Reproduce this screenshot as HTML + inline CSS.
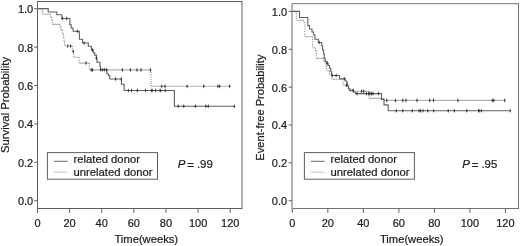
<!DOCTYPE html>
<html><head><meta charset="utf-8"><style>
html,body{margin:0;padding:0;background:#fff;width:520px;height:246px;overflow:hidden}
svg{display:block;will-change:transform;filter:blur(0.3px)}
.t{font-family:"Liberation Sans",sans-serif;font-size:11px;fill:#1c1c1c;stroke:#1c1c1c;stroke-width:0.22px}
</style></head><body>
<svg width="520" height="246" viewBox="0 0 520 246">
<rect width="520" height="246" fill="#fff"/>
<rect x="37.5" y="1.5" width="204.50" height="207.00" fill="none" stroke="#5e5e5e" stroke-width="1"/>
<line x1="34.20" y1="200.70" x2="37.50" y2="200.70" stroke="#5e5e5e" stroke-width="1"/>
<text x="33.20" y="205.20" text-anchor="end" class="t">0.0</text>
<line x1="34.20" y1="162.30" x2="37.50" y2="162.30" stroke="#5e5e5e" stroke-width="1"/>
<text x="33.20" y="166.80" text-anchor="end" class="t">0.2</text>
<line x1="34.20" y1="123.90" x2="37.50" y2="123.90" stroke="#5e5e5e" stroke-width="1"/>
<text x="33.20" y="128.40" text-anchor="end" class="t">0.4</text>
<line x1="34.20" y1="85.50" x2="37.50" y2="85.50" stroke="#5e5e5e" stroke-width="1"/>
<text x="33.20" y="90.00" text-anchor="end" class="t">0.6</text>
<line x1="34.20" y1="47.10" x2="37.50" y2="47.10" stroke="#5e5e5e" stroke-width="1"/>
<text x="33.20" y="51.60" text-anchor="end" class="t">0.8</text>
<line x1="34.20" y1="8.70" x2="37.50" y2="8.70" stroke="#5e5e5e" stroke-width="1"/>
<text x="33.20" y="13.20" text-anchor="end" class="t">1.0</text>
<line x1="37.50" y1="208.50" x2="37.50" y2="212.80" stroke="#5e5e5e" stroke-width="1"/>
<text x="37.50" y="226.5" text-anchor="middle" class="t">0</text>
<line x1="69.62" y1="208.50" x2="69.62" y2="212.80" stroke="#5e5e5e" stroke-width="1"/>
<text x="69.62" y="226.5" text-anchor="middle" class="t">20</text>
<line x1="101.73" y1="208.50" x2="101.73" y2="212.80" stroke="#5e5e5e" stroke-width="1"/>
<text x="101.73" y="226.5" text-anchor="middle" class="t">40</text>
<line x1="133.85" y1="208.50" x2="133.85" y2="212.80" stroke="#5e5e5e" stroke-width="1"/>
<text x="133.85" y="226.5" text-anchor="middle" class="t">60</text>
<line x1="165.96" y1="208.50" x2="165.96" y2="212.80" stroke="#5e5e5e" stroke-width="1"/>
<text x="165.96" y="226.5" text-anchor="middle" class="t">80</text>
<line x1="198.08" y1="208.50" x2="198.08" y2="212.80" stroke="#5e5e5e" stroke-width="1"/>
<text x="198.08" y="226.5" text-anchor="middle" class="t">100</text>
<line x1="230.20" y1="208.50" x2="230.20" y2="212.80" stroke="#5e5e5e" stroke-width="1"/>
<text x="230.20" y="226.5" text-anchor="middle" class="t">120</text>
<text x="146.25" y="243" text-anchor="middle" class="t" style="font-size:11.2px">Time(weeks)</text>
<text transform="translate(9.2,105.0) rotate(-90)" text-anchor="middle" class="t" style="font-size:11.3px">Survival Probability</text>
<rect x="47.4" y="152.6" width="110.1" height="26.6" fill="#fff" stroke="#5e5e5e" stroke-width="1"/>
<line x1="53.9" y1="161.3" x2="67.7" y2="161.3" stroke="#666" stroke-width="1"/>
<line x1="53.9" y1="172.2" x2="67.7" y2="172.2" stroke="#c8c8c8" stroke-width="1"/>
<text x="73.6" y="163.4" class="t" style="font-size:11.25px">related donor</text>
<text x="73.6" y="175.9" class="t" style="font-size:11.25px">unrelated donor</text>
<text x="177.8" y="168.0" class="t" style="font-size:11.4px"><tspan font-style="italic">P</tspan><tspan x="187.20" dy="0.9">=</tspan><tspan x="196.90" dy="-0.9">.99</tspan></text>
<rect x="292.0" y="3.7" width="226.50" height="204.80" fill="none" stroke="#727272" stroke-width="1"/>
<line x1="292.0" y1="3.2" x2="292.0" y2="209.0" stroke="#fff" stroke-width="1.2"/>
<line x1="292.0" y1="3.2" x2="292.0" y2="209.0" stroke="#9a9a9a" stroke-width="1.3"/>
<line x1="288.70" y1="200.70" x2="292.00" y2="200.70" stroke="#5e5e5e" stroke-width="1"/>
<text x="287.10" y="205.20" text-anchor="end" class="t">0.0</text>
<line x1="288.70" y1="162.84" x2="292.00" y2="162.84" stroke="#5e5e5e" stroke-width="1"/>
<text x="287.10" y="167.34" text-anchor="end" class="t">0.2</text>
<line x1="288.70" y1="124.98" x2="292.00" y2="124.98" stroke="#5e5e5e" stroke-width="1"/>
<text x="287.10" y="129.48" text-anchor="end" class="t">0.4</text>
<line x1="288.70" y1="87.12" x2="292.00" y2="87.12" stroke="#5e5e5e" stroke-width="1"/>
<text x="287.10" y="91.62" text-anchor="end" class="t">0.6</text>
<line x1="288.70" y1="49.26" x2="292.00" y2="49.26" stroke="#5e5e5e" stroke-width="1"/>
<text x="287.10" y="53.76" text-anchor="end" class="t">0.8</text>
<line x1="288.70" y1="11.40" x2="292.00" y2="11.40" stroke="#5e5e5e" stroke-width="1"/>
<text x="287.10" y="15.90" text-anchor="end" class="t">1.0</text>
<line x1="292.30" y1="208.50" x2="292.30" y2="212.80" stroke="#5e5e5e" stroke-width="1"/>
<text x="292.30" y="226.5" text-anchor="middle" class="t">0</text>
<line x1="327.82" y1="208.50" x2="327.82" y2="212.80" stroke="#5e5e5e" stroke-width="1"/>
<text x="327.82" y="226.5" text-anchor="middle" class="t">20</text>
<line x1="363.34" y1="208.50" x2="363.34" y2="212.80" stroke="#5e5e5e" stroke-width="1"/>
<text x="363.34" y="226.5" text-anchor="middle" class="t">40</text>
<line x1="398.86" y1="208.50" x2="398.86" y2="212.80" stroke="#5e5e5e" stroke-width="1"/>
<text x="398.86" y="226.5" text-anchor="middle" class="t">60</text>
<line x1="434.38" y1="208.50" x2="434.38" y2="212.80" stroke="#5e5e5e" stroke-width="1"/>
<text x="434.38" y="226.5" text-anchor="middle" class="t">80</text>
<line x1="469.90" y1="208.50" x2="469.90" y2="212.80" stroke="#5e5e5e" stroke-width="1"/>
<text x="469.90" y="226.5" text-anchor="middle" class="t">100</text>
<line x1="505.42" y1="208.50" x2="505.42" y2="212.80" stroke="#5e5e5e" stroke-width="1"/>
<text x="505.42" y="226.5" text-anchor="middle" class="t">120</text>
<text x="411.75" y="243" text-anchor="middle" class="t" style="font-size:11.2px">Time(weeks)</text>
<text transform="translate(264.0,107.6) rotate(-90)" text-anchor="middle" class="t" style="font-size:11.1px">Event-free Probability</text>
<rect x="304.4" y="152.6" width="110.0" height="26.6" fill="#fff" stroke="#5e5e5e" stroke-width="1"/>
<line x1="310.9" y1="161.3" x2="324.7" y2="161.3" stroke="#666" stroke-width="1"/>
<line x1="310.9" y1="172.2" x2="324.7" y2="172.2" stroke="#c8c8c8" stroke-width="1"/>
<text x="330.59999999999997" y="163.4" class="t" style="font-size:11.25px">related donor</text>
<text x="330.59999999999997" y="175.9" class="t" style="font-size:11.25px">unrelated donor</text>
<text x="462.3" y="168.0" class="t" style="font-size:11.4px"><tspan font-style="italic">P</tspan><tspan x="471.70" dy="0.9">=</tspan><tspan x="481.40" dy="-0.9">.95</tspan></text>
<path d="M37.50,8.60 H42.00 M42.00,11.40 H42.60 M42.60,14.30 H50.60 M50.60,17.00 H51.60 M51.60,20.00 H52.20 M52.20,24.40 H59.90 M59.90,26.80 H61.00 M61.00,30.00 H62.70 M62.70,34.00 H63.40 M63.40,38.00 H64.00 M64.00,41.80 H64.60 M64.60,46.00 H72.30 M72.30,51.30 H73.60 M73.60,57.20 H79.20 M79.20,63.10 H89.40 M89.40,69.90 H151.00 M151.00,86.30 H230.20" fill="none" stroke="#b2b2b2" stroke-width="1.1"/>
<path d="M42.00,8.60 V11.40 M42.60,11.40 V14.30 M50.60,14.30 V17.00 M51.60,17.00 V20.00 M52.20,20.00 V24.40 M59.90,24.40 V26.80 M61.00,26.80 V30.00 M62.70,30.00 V34.00 M63.40,34.00 V38.00 M64.00,38.00 V41.80 M64.60,41.80 V46.00 M72.30,46.00 V51.30 M73.60,51.30 V57.20 M79.20,57.20 V63.10 M89.40,63.10 V69.90 M151.00,69.90 V86.30" fill="none" stroke="#8a8a8a" stroke-width="1.1" stroke-dasharray="1 1.2"/>
<path d="M67.80,43.70 L68.55,46.00 L67.80,48.30 L67.05,46.00 Z" fill="#2e2e2e"/>
<path d="M70.60,43.70 L71.35,46.00 L70.60,48.30 L69.85,46.00 Z" fill="#2e2e2e"/>
<path d="M73.20,49.20 L73.95,51.50 L73.20,53.80 L72.45,51.50 Z" fill="#2e2e2e"/>
<path d="M86.00,60.80 L86.75,63.10 L86.00,65.40 L85.25,63.10 Z" fill="#2e2e2e"/>
<path d="M91.20,67.60 L91.95,69.90 L91.20,72.20 L90.45,69.90 Z" fill="#2e2e2e"/>
<path d="M92.60,67.60 L93.35,69.90 L92.60,72.20 L91.85,69.90 Z" fill="#2e2e2e"/>
<path d="M122.40,67.60 L123.15,69.90 L122.40,72.20 L121.65,69.90 Z" fill="#2e2e2e"/>
<path d="M130.40,67.60 L131.15,69.90 L130.40,72.20 L129.65,69.90 Z" fill="#2e2e2e"/>
<path d="M137.00,67.60 L137.75,69.90 L137.00,72.20 L136.25,69.90 Z" fill="#2e2e2e"/>
<path d="M141.00,67.60 L141.75,69.90 L141.00,72.20 L140.25,69.90 Z" fill="#2e2e2e"/>
<path d="M150.40,67.60 L151.15,69.90 L150.40,72.20 L149.65,69.90 Z" fill="#2e2e2e"/>
<path d="M161.70,84.00 L162.45,86.30 L161.70,88.60 L160.95,86.30 Z" fill="#2e2e2e"/>
<path d="M165.00,84.00 L165.75,86.30 L165.00,88.60 L164.25,86.30 Z" fill="#2e2e2e"/>
<path d="M187.10,84.00 L187.85,86.30 L187.10,88.60 L186.35,86.30 Z" fill="#2e2e2e"/>
<path d="M203.80,84.00 L204.55,86.30 L203.80,88.60 L203.05,86.30 Z" fill="#2e2e2e"/>
<path d="M218.00,84.00 L218.75,86.30 L218.00,88.60 L217.25,86.30 Z" fill="#2e2e2e"/>
<path d="M219.60,84.00 L220.35,86.30 L219.60,88.60 L218.85,86.30 Z" fill="#2e2e2e"/>
<path d="M229.60,84.00 L230.35,86.30 L229.60,88.60 L228.85,86.30 Z" fill="#2e2e2e"/>
<path d="M37.50,8.60 L48.20,8.60 L48.20,12.00 L56.80,12.00 L56.80,14.80 L61.90,14.80 L61.90,18.50 L69.90,18.50 L69.90,24.60 L71.10,24.60 L71.10,28.00 L73.10,28.00 L73.10,31.20 L79.40,31.20 L79.40,39.20 L82.50,39.20 L82.50,43.00 L88.30,43.00 L88.30,46.30 L91.30,46.30 L91.30,49.90 L93.30,49.90 L93.30,52.70 L94.70,52.70 L94.70,55.10 L96.50,55.10 L96.50,58.00 L97.00,58.00 L97.00,62.20 L99.90,62.20 L99.90,66.00 L100.40,66.00 L100.40,69.80 L107.00,69.80 L107.00,73.70 L108.30,73.70 L108.30,75.50 L109.80,75.50 L109.80,79.00 L121.40,79.00 L121.40,84.30 L124.10,84.30 L124.10,90.50 L174.40,90.50 L174.40,106.30 L234.30,106.30" fill="none" stroke="#606060" stroke-width="1.1"/>
<path d="M62.30,16.20 L63.05,18.50 L62.30,20.80 L61.55,18.50 Z" fill="#2e2e2e"/>
<path d="M66.70,16.20 L67.45,18.50 L66.70,20.80 L65.95,18.50 Z" fill="#2e2e2e"/>
<path d="M77.30,28.90 L78.05,31.20 L77.30,33.50 L76.55,31.20 Z" fill="#2e2e2e"/>
<path d="M84.10,40.70 L84.85,43.00 L84.10,45.30 L83.35,43.00 Z" fill="#2e2e2e"/>
<path d="M92.30,47.60 L93.05,49.90 L92.30,52.20 L91.55,49.90 Z" fill="#2e2e2e"/>
<path d="M96.20,55.70 L96.95,58.00 L96.20,60.30 L95.45,58.00 Z" fill="#2e2e2e"/>
<path d="M100.60,67.50 L101.35,69.80 L100.60,72.10 L99.85,69.80 Z" fill="#2e2e2e"/>
<path d="M102.40,67.50 L103.15,69.80 L102.40,72.10 L101.65,69.80 Z" fill="#2e2e2e"/>
<path d="M104.30,67.50 L105.05,69.80 L104.30,72.10 L103.55,69.80 Z" fill="#2e2e2e"/>
<path d="M106.60,67.50 L107.35,69.80 L106.60,72.10 L105.85,69.80 Z" fill="#2e2e2e"/>
<path d="M115.60,76.70 L116.35,79.00 L115.60,81.30 L114.85,79.00 Z" fill="#2e2e2e"/>
<path d="M121.30,76.70 L122.05,79.00 L121.30,81.30 L120.55,79.00 Z" fill="#2e2e2e"/>
<path d="M128.30,88.20 L129.05,90.50 L128.30,92.80 L127.55,90.50 Z" fill="#2e2e2e"/>
<path d="M131.50,88.20 L132.25,90.50 L131.50,92.80 L130.75,90.50 Z" fill="#2e2e2e"/>
<path d="M137.30,88.20 L138.05,90.50 L137.30,92.80 L136.55,90.50 Z" fill="#2e2e2e"/>
<path d="M145.60,88.20 L146.35,90.50 L145.60,92.80 L144.85,90.50 Z" fill="#2e2e2e"/>
<path d="M151.30,88.20 L152.05,90.50 L151.30,92.80 L150.55,90.50 Z" fill="#2e2e2e"/>
<path d="M152.20,88.20 L152.95,90.50 L152.20,92.80 L151.45,90.50 Z" fill="#2e2e2e"/>
<path d="M155.60,88.20 L156.35,90.50 L155.60,92.80 L154.85,90.50 Z" fill="#2e2e2e"/>
<path d="M160.00,88.20 L160.75,90.50 L160.00,92.80 L159.25,90.50 Z" fill="#2e2e2e"/>
<path d="M160.80,88.20 L161.55,90.50 L160.80,92.80 L160.05,90.50 Z" fill="#2e2e2e"/>
<path d="M165.20,88.20 L165.95,90.50 L165.20,92.80 L164.45,90.50 Z" fill="#2e2e2e"/>
<path d="M178.20,104.00 L178.95,106.30 L178.20,108.60 L177.45,106.30 Z" fill="#2e2e2e"/>
<path d="M183.80,104.00 L184.55,106.30 L183.80,108.60 L183.05,106.30 Z" fill="#2e2e2e"/>
<path d="M195.40,104.00 L196.15,106.30 L195.40,108.60 L194.65,106.30 Z" fill="#2e2e2e"/>
<path d="M205.90,104.00 L206.65,106.30 L205.90,108.60 L205.15,106.30 Z" fill="#2e2e2e"/>
<path d="M208.20,104.00 L208.95,106.30 L208.20,108.60 L207.45,106.30 Z" fill="#2e2e2e"/>
<path d="M234.30,104.00 L235.05,106.30 L234.30,108.60 L233.55,106.30 Z" fill="#2e2e2e"/>
<path d="M292.30,11.40 H296.30 M296.30,20.20 H303.40 M303.40,22.20 H304.90 M304.90,36.80 H312.60 M312.60,47.80 H315.30 M315.30,50.80 H316.30 M316.30,58.40 H323.80 M323.80,61.00 H325.60 M325.60,65.80 H326.60 M326.60,70.70 H329.50 M329.50,75.00 H331.60 M331.60,79.20 H343.00 M343.00,85.30 H348.00 M348.00,89.00 H352.50 M352.50,91.20 H369.30 M369.30,98.40 H383.80 M383.80,100.40 H504.80" fill="none" stroke="#b2b2b2" stroke-width="1.1"/>
<path d="M296.30,11.40 V20.20 M303.40,20.20 V22.20 M304.90,22.20 V36.80 M312.60,36.80 V47.80 M315.30,47.80 V50.80 M316.30,50.80 V58.40 M323.80,58.40 V61.00 M325.60,61.00 V65.80 M326.60,65.80 V70.70 M329.50,70.70 V75.00 M331.60,75.00 V79.20 M343.00,79.20 V85.30 M348.00,85.30 V89.00 M352.50,89.00 V91.20 M369.30,91.20 V98.40 M383.80,98.40 V100.40" fill="none" stroke="#8a8a8a" stroke-width="1.1" stroke-dasharray="1 1.2"/>
<path d="M346.40,83.00 L347.15,85.30 L346.40,87.60 L345.65,85.30 Z" fill="#2e2e2e"/>
<path d="M361.60,88.90 L362.35,91.20 L361.60,93.50 L360.85,91.20 Z" fill="#2e2e2e"/>
<path d="M363.80,88.90 L364.55,91.20 L363.80,93.50 L363.05,91.20 Z" fill="#2e2e2e"/>
<path d="M386.80,98.10 L387.55,100.40 L386.80,102.70 L386.05,100.40 Z" fill="#2e2e2e"/>
<path d="M395.40,98.10 L396.15,100.40 L395.40,102.70 L394.65,100.40 Z" fill="#2e2e2e"/>
<path d="M402.80,98.10 L403.55,100.40 L402.80,102.70 L402.05,100.40 Z" fill="#2e2e2e"/>
<path d="M406.00,98.10 L406.75,100.40 L406.00,102.70 L405.25,100.40 Z" fill="#2e2e2e"/>
<path d="M417.00,98.10 L417.75,100.40 L417.00,102.70 L416.25,100.40 Z" fill="#2e2e2e"/>
<path d="M429.80,98.10 L430.55,100.40 L429.80,102.70 L429.05,100.40 Z" fill="#2e2e2e"/>
<path d="M433.50,98.10 L434.25,100.40 L433.50,102.70 L432.75,100.40 Z" fill="#2e2e2e"/>
<path d="M457.90,98.10 L458.65,100.40 L457.90,102.70 L457.15,100.40 Z" fill="#2e2e2e"/>
<path d="M492.30,98.10 L493.05,100.40 L492.30,102.70 L491.55,100.40 Z" fill="#2e2e2e"/>
<path d="M493.90,98.10 L494.65,100.40 L493.90,102.70 L493.15,100.40 Z" fill="#2e2e2e"/>
<path d="M504.80,98.10 L505.55,100.40 L504.80,102.70 L504.05,100.40 Z" fill="#2e2e2e"/>
<path d="M292.30,11.40 L299.50,11.40 L299.50,17.50 L307.80,17.50 L307.80,25.60 L309.50,25.60 L309.50,29.00 L312.00,29.00 L312.00,32.00 L313.60,32.00 L313.60,35.00 L315.00,35.00 L315.00,39.30 L318.30,39.30 L318.30,42.50 L321.80,42.50 L321.80,46.00 L322.60,46.00 L322.60,50.00 L323.60,50.00 L323.60,54.00 L324.20,54.00 L324.20,58.00 L325.20,58.00 L325.20,61.60 L327.00,61.60 L327.00,63.50 L328.20,63.50 L328.20,65.50 L329.50,65.50 L329.50,68.20 L330.80,68.20 L330.80,71.70 L331.60,71.70 L331.60,75.50 L339.60,75.50 L339.60,78.80 L345.30,78.80 L345.30,81.00 L346.80,81.00 L346.80,83.10 L347.60,83.10 L347.60,86.00 L348.60,86.00 L348.60,89.00 L349.70,89.00 L349.70,90.60 L353.60,90.60 L353.60,92.00 L355.60,92.00 L355.60,93.60 L381.50,93.60 L381.50,99.40 L384.00,99.40 L384.00,104.90 L388.20,104.90 L388.20,110.80 L510.20,110.80" fill="none" stroke="#606060" stroke-width="1.1"/>
<path d="M319.20,40.20 L319.95,42.50 L319.20,44.80 L318.45,42.50 Z" fill="#2e2e2e"/>
<path d="M327.20,61.20 L327.95,63.50 L327.20,65.80 L326.45,63.50 Z" fill="#2e2e2e"/>
<path d="M332.20,73.20 L332.95,75.50 L332.20,77.80 L331.45,75.50 Z" fill="#2e2e2e"/>
<path d="M336.10,73.20 L336.85,75.50 L336.10,77.80 L335.35,75.50 Z" fill="#2e2e2e"/>
<path d="M344.30,76.50 L345.05,78.80 L344.30,81.10 L343.55,78.80 Z" fill="#2e2e2e"/>
<path d="M353.20,88.30 L353.95,90.60 L353.20,92.90 L352.45,90.60 Z" fill="#2e2e2e"/>
<path d="M357.10,91.30 L357.85,93.60 L357.10,95.90 L356.35,93.60 Z" fill="#2e2e2e"/>
<path d="M366.40,91.30 L367.15,93.60 L366.40,95.90 L365.65,93.60 Z" fill="#2e2e2e"/>
<path d="M368.60,91.30 L369.35,93.60 L368.60,95.90 L367.85,93.60 Z" fill="#2e2e2e"/>
<path d="M370.00,91.30 L370.75,93.60 L370.00,95.90 L369.25,93.60 Z" fill="#2e2e2e"/>
<path d="M371.60,91.30 L372.35,93.60 L371.60,95.90 L370.85,93.60 Z" fill="#2e2e2e"/>
<path d="M373.00,91.30 L373.75,93.60 L373.00,95.90 L372.25,93.60 Z" fill="#2e2e2e"/>
<path d="M378.40,91.30 L379.15,93.60 L378.40,95.90 L377.65,93.60 Z" fill="#2e2e2e"/>
<path d="M396.30,108.50 L397.05,110.80 L396.30,113.10 L395.55,110.80 Z" fill="#2e2e2e"/>
<path d="M402.80,108.50 L403.55,110.80 L402.80,113.10 L402.05,110.80 Z" fill="#2e2e2e"/>
<path d="M412.20,108.50 L412.95,110.80 L412.20,113.10 L411.45,110.80 Z" fill="#2e2e2e"/>
<path d="M419.00,108.50 L419.75,110.80 L419.00,113.10 L418.25,110.80 Z" fill="#2e2e2e"/>
<path d="M420.50,108.50 L421.25,110.80 L420.50,113.10 L419.75,110.80 Z" fill="#2e2e2e"/>
<path d="M423.00,108.50 L423.75,110.80 L423.00,113.10 L422.25,110.80 Z" fill="#2e2e2e"/>
<path d="M427.80,108.50 L428.55,110.80 L427.80,113.10 L427.05,110.80 Z" fill="#2e2e2e"/>
<path d="M433.70,108.50 L434.45,110.80 L433.70,113.10 L432.95,110.80 Z" fill="#2e2e2e"/>
<path d="M448.20,108.50 L448.95,110.80 L448.20,113.10 L447.45,110.80 Z" fill="#2e2e2e"/>
<path d="M454.30,108.50 L455.05,110.80 L454.30,113.10 L453.55,110.80 Z" fill="#2e2e2e"/>
<path d="M466.80,108.50 L467.55,110.80 L466.80,113.10 L466.05,110.80 Z" fill="#2e2e2e"/>
<path d="M479.00,108.50 L479.75,110.80 L479.00,113.10 L478.25,110.80 Z" fill="#2e2e2e"/>
<path d="M478.80,108.50 L479.55,110.80 L478.80,113.10 L478.05,110.80 Z" fill="#2e2e2e"/>
<path d="M481.30,108.50 L482.05,110.80 L481.30,113.10 L480.55,110.80 Z" fill="#2e2e2e"/>
<path d="M510.20,108.50 L510.95,110.80 L510.20,113.10 L509.45,110.80 Z" fill="#2e2e2e"/>
</svg>
</body></html>
